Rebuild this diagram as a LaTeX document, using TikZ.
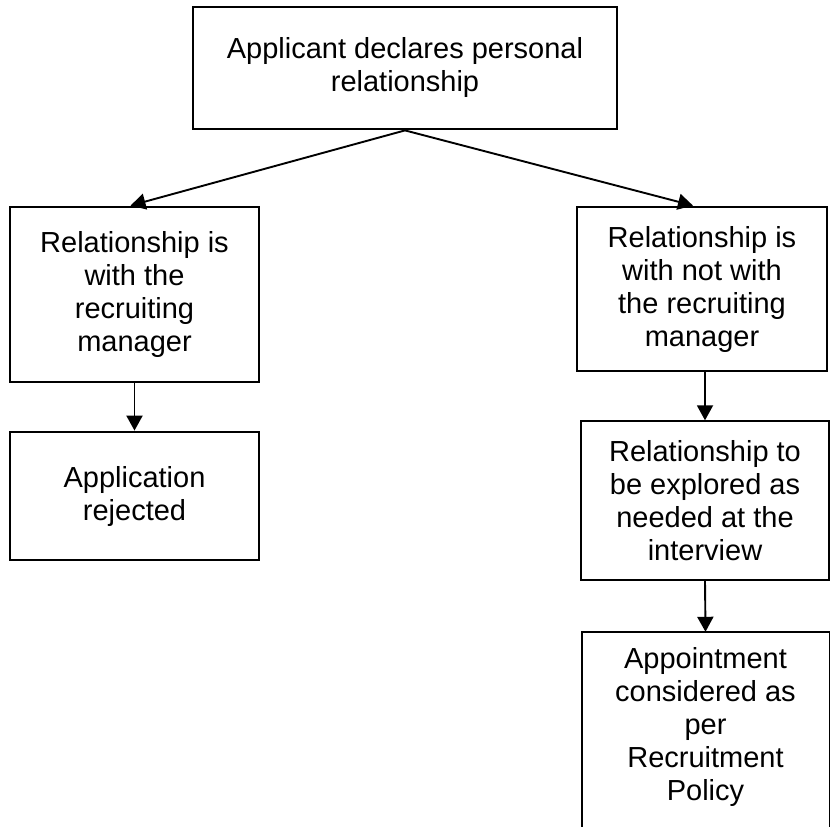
\documentclass[tikz,border=0pt]{standalone}
\usepackage{fontspec}
\setmainfont{Liberation Sans}
\usetikzlibrary{arrows.meta,calc}
\begin{document}
\begin{tikzpicture}[x=1pt,y=1pt,
  every node/.style={font=\fontsize{29}{33}\selectfont, align=center, inner sep=0pt},
  thickbox/.style={draw, line width=2.8pt},
  thinbox/.style={draw, line width=1.4pt},
  conn/.style={line width=1.9pt, -{Triangle[length=15pt,width=16pt]}}
]
\useasboundingbox (0,0) rectangle (830,-827);
\node[thickbox, minimum width=424, minimum height=122] (top) at (405,-68)
  {Applicant declares personal\\relationship};
\node[thickbox, minimum width=249, minimum height=175] (left) at (134.5,-294.5)
  {Relationship is\\with the\\recruiting\\manager};
\node[thickbox, minimum width=250, minimum height=164] (right) at (702,-289)
  {Relationship is\\with not with\\the recruiting\\manager};
\node[thickbox, minimum width=249, minimum height=128] (rej) at (134.5,-496)
  {Application\\rejected};
\node[thinbox, minimum width=248, minimum height=159] (explore) at (705,-500.5)
  {Relationship to\\be explored as\\needed at the\\interview};
\node[minimum width=247, minimum height=190] (appt) at (705.5,-727)
  {Appointment\\considered as\\per\\Recruitment\\Policy};
\draw[line width=1.4pt] ($(appt.south west)+(0,-40)$) -- (appt.north west)
  -- (appt.north east) -- ($(appt.south east)+(0,-40)$);
\draw[conn] (top.south) -- ([xshift=-4pt]left.north);
\draw[conn] (top.south) -- ([xshift=-9pt]right.north);
\draw[conn] (left.south) -- (rej.north);
\draw[conn] (right.south -| explore.north) -- (explore.north);
\draw[conn] (explore.south) -- (appt.north);
\end{tikzpicture}
\end{document}
